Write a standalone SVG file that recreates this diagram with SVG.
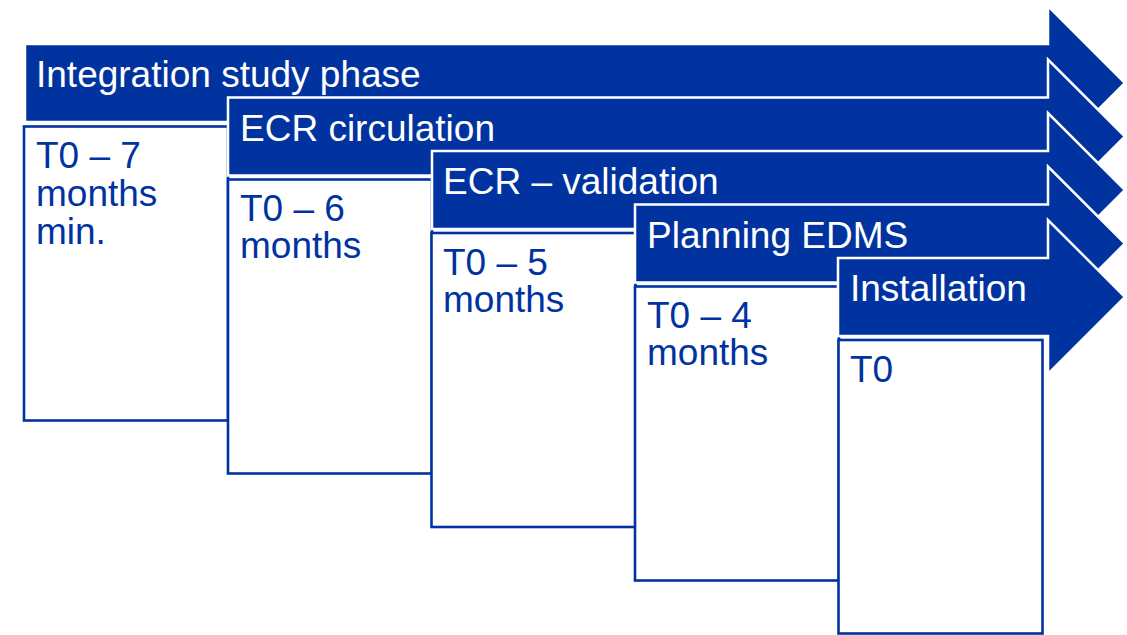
<svg xmlns="http://www.w3.org/2000/svg" width="1127" height="635" viewBox="0 0 1127 635">
<style>
.arrow{fill:#0033a0;stroke:#ffffff;stroke-width:2.5;stroke-linejoin:miter}
.box{fill:#ffffff;stroke:#0033a0;stroke-width:2.6}
.lbl{font-family:"Liberation Sans",Arial,sans-serif;font-size:37px;fill:#ffffff}
.txt{font-family:"Liberation Sans",Arial,sans-serif;font-size:37px;fill:#0033a0}
</style>
<rect width="1127" height="635" fill="#ffffff"/>
<g id="phase1">
<polygon class="arrow" points="25,44 1048,44 1048,6 1125,83 1048,160 1048,122 25,122"/>
<text class="lbl" x="36" y="87">Integration study phase</text>
</g>
<g id="box1">
<rect class="box" x="24" y="126.5" width="204" height="294"/>
<text class="txt" x="36" y="168">T0 – 7</text>
<text class="txt" x="36" y="206">months</text>
<text class="txt" x="36" y="244">min.</text>
</g>
<g id="phase2">
<polygon class="arrow" points="228,97.5 1048,97.5 1048,59.5 1125,136.5 1048,213.5 1048,175.5 228,175.5"/>
<text class="lbl" x="240" y="141">ECR circulation</text>
</g>
<g id="box2">
<rect class="box" x="228" y="179.5" width="204" height="294"/>
<text class="txt" x="240" y="221">T0 – 6</text>
<text class="txt" x="240" y="258">months</text>
</g>
<g id="phase3">
<polygon class="arrow" points="432,151 1048,151 1048,113 1125,190 1048,267 1048,229 432,229"/>
<text class="lbl" x="443" y="194">ECR – validation</text>
</g>
<g id="box3">
<rect class="box" x="431.5" y="233" width="204" height="294"/>
<text class="txt" x="443" y="275">T0 – 5</text>
<text class="txt" x="443" y="312">months</text>
</g>
<g id="phase4">
<polygon class="arrow" points="635,204.5 1048,204.5 1048,166.5 1125,243.5 1048,320.5 1048,282.5 635,282.5"/>
<text class="lbl" x="647" y="248">Planning EDMS</text>
</g>
<g id="box4">
<rect class="box" x="635" y="286.5" width="204" height="294"/>
<text class="txt" x="647" y="328">T0 – 4</text>
<text class="txt" x="647" y="365">months</text>
</g>
<g id="phase5">
<polygon class="arrow" points="838,258 1048,258 1048,220 1125,297 1048,374 1048,336 838,336"/>
<text class="lbl" x="850" y="301">Installation</text>
</g>
<g id="box5">
<rect class="box" x="838.5" y="340" width="204" height="293.5"/>
<text class="txt" x="850" y="382">T0</text>
</g>
<g id="connectors"/>
</svg>
